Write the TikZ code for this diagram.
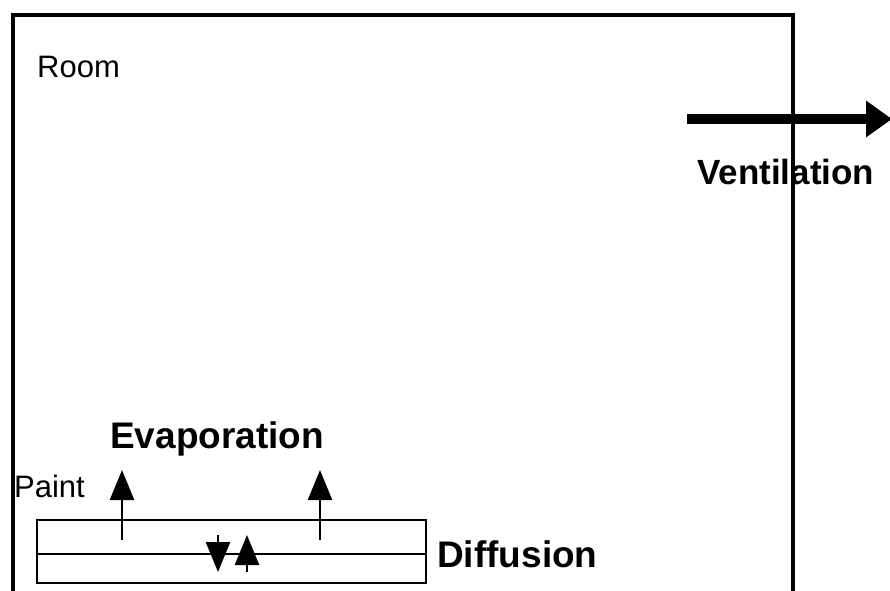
\documentclass[tikz,border=0pt]{standalone}
\usepackage{fontspec}
\setmainfont{Liberation Sans}
\usetikzlibrary{arrows.meta}

\begin{document}
\begin{tikzpicture}[
x = 1pt, y = -1pt, % pixel grid of the sketch
label/.style = {inner sep = 0pt, anchor = base west},
thin label/.style = {label, font = \fontsize{31}{31}\selectfont},
bold label/.style = {label, font = \fontsize{37}{37}\selectfont\bfseries},
flow/.style = {line width = 2.5pt, -{Triangle[width=24pt,length=30pt]}},
wind/.style = {line width = 10pt, -{Triangle[width=35pt,length=26pt]}}
]

\useasboundingbox (0,0) rectangle (890,590);

% room walls, open at the bottom
\draw[line width = 3.5pt] (13,600) -- (13,15) -- (793,15) -- (793,600);

% paint layer
\draw[line width = 2.5pt] (37,520) rectangle (426,583);
\draw[line width = 2.5pt] (37,554) -- (426,554);

\node[thin label] (room) at (37,77) {Room};
\node[thin label] (paint) at (14,497) {Paint};
\node[bold label] (evap) at (110,448) {Evaporation};
\node[bold label] (diff) at (437,567) {Diffusion};
\node[bold label, font = \fontsize{35}{35}\selectfont\bfseries] (vent) at (697,184) {Ventilation};

\coordinate (e1) at (122,540);
\coordinate (e1 top) at (122,470);
\coordinate (e2) at (320,540);
\coordinate (e2 top) at (320,470);
\coordinate (d1) at (218,535);
\coordinate (d1 end) at (218,572);
\coordinate (d2) at (247,572);
\coordinate (d2 end) at (247,535);
\coordinate (v1) at (687,119);
\coordinate (v2) at (892,119);

\draw[flow] (e1) -- (e1 top);
\draw[flow] (e2) -- (e2 top);
\draw[flow] (d1) -- (d1 end);
\draw[flow] (d2) -- (d2 end);
\draw[wind] (v1) -- (v2);

\end{tikzpicture}
\end{document}
